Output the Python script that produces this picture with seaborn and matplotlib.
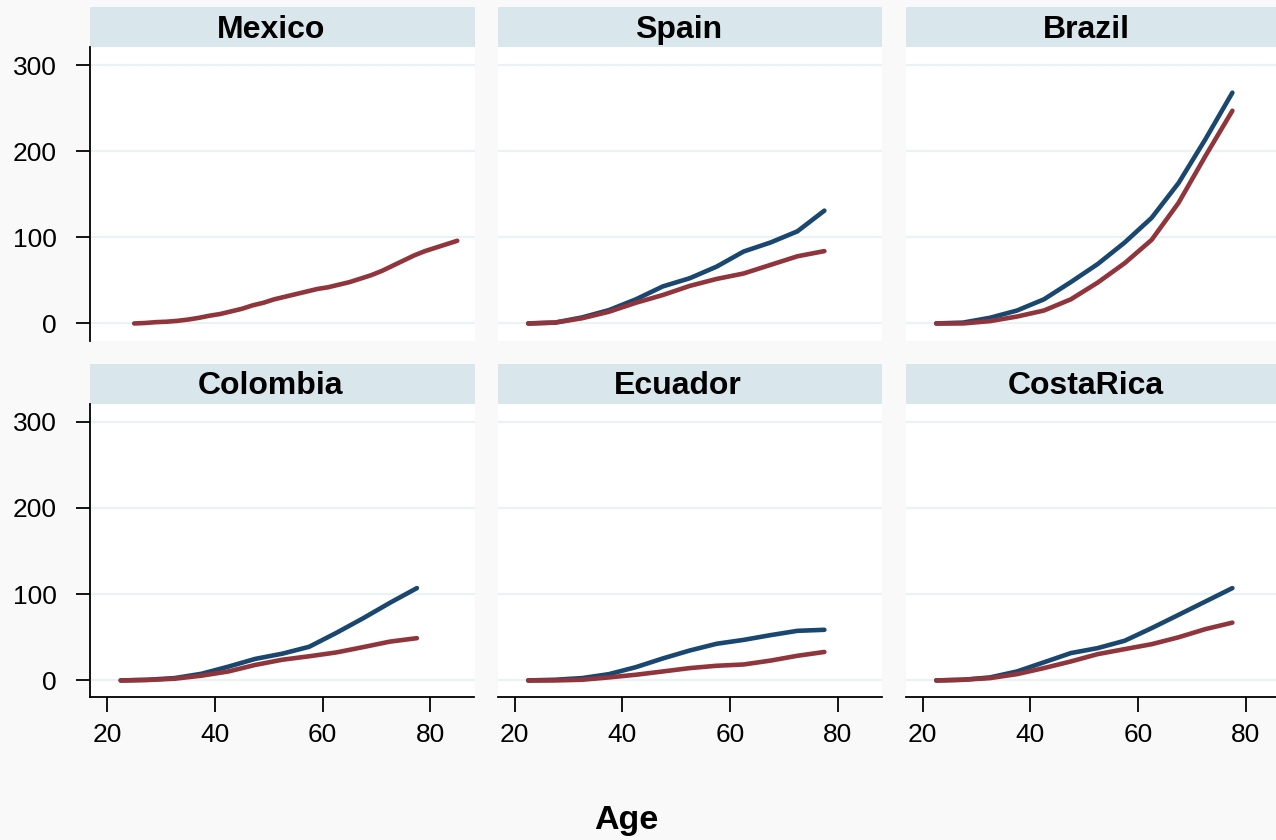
import matplotlib.pyplot as plt
from matplotlib.patches import Rectangle
import seaborn as sns
import pandas as pd
import numpy as np

sns.set_style("white")
plt.rcParams['font.family'] = ['Liberation Sans', 'DejaVu Sans']
plt.rcParams['figure.dpi'] = 100
plt.rcParams['text.color'] = 'black'

# ---- data ----
countries = ["Mexico", "Spain", "Brazil", "Colombia", "Ecuador", "CostaRica"]
ages = [22.5, 27.5, 32.5, 37.5, 42.5, 47.5, 52.5, 57.5, 62.5, 67.5, 72.5, 77.5]

# Mexico comes on a finer age grid and only one line is visible
mexico_ages = list(range(25, 86, 2))
mexico_vals = [0, 0.5, 1.5, 2, 3, 4.5, 6.5, 9, 11, 14, 17, 21, 24, 28, 31, 34,
               37, 40, 42, 45, 48, 52, 56, 61, 67, 73, 79, 84, 88, 92, 96]

spain_m = [0, 1, 7, 15.5, 28, 43, 52.5, 66, 83.5, 94, 107, 131]
spain_f = [0, 1, 6, 13.6, 24, 33, 43.6, 51.7, 58, 68, 78, 84]
brazil_m = [0, 1, 6.6, 15, 28, 48, 69, 94, 122.6, 163, 214, 268]
brazil_f = [0, 0, 2.7, 8, 15, 28, 47.5, 70, 97, 140, 194.5, 247]
colombia_m = [0, 0.8, 2.7, 7.7, 16, 25, 31, 39, 55, 72, 90, 107]
colombia_f = [0, 0.5, 2, 5.5, 10.4, 18, 24, 28, 32.4, 38.6, 45, 49]
ecuador_m = [0, 0.8, 2.7, 7.3, 15.4, 25.5, 34.7, 42.5, 47, 52.5, 57.5, 58.7]
ecuador_f = [0, 0, 0.8, 3.5, 6.6, 10.4, 14.3, 17, 18.5, 23, 28.6, 33]
costarica_m = [0, 0.8, 3.5, 10.4, 21, 31.7, 37.5, 46, 60.6, 76, 91.5, 107]
costarica_f = [0, 0.8, 2.7, 7.3, 14.3, 22, 30.5, 36.3, 42, 50, 59.5, 67]

series = {
    "Spain": (spain_m, spain_f),
    "Brazil": (brazil_m, brazil_f),
    "Colombia": (colombia_m, colombia_f),
    "Ecuador": (ecuador_m, ecuador_f),
    "CostaRica": (costarica_m, costarica_f),
}

rows = [("Mexico", a, "Female", v) for a, v in zip(mexico_ages, mexico_vals)]
for c, (m, f) in series.items():
    rows += [(c, a, "Male", v) for a, v in zip(ages, m)]
    rows += [(c, a, "Female", v) for a, v in zip(ages, f)]
df = pd.DataFrame(rows, columns=["country", "age", "sex", "value"])

palette = {"Male": "#1a476f", "Female": "#90353b"}
bg = "#f9f9f9"
strip_col = "#d9e6eb"
grid_col = "#eaf2f3"

W, H = 1276, 840
fig = plt.figure(figsize=(W / 100, H / 100), facecolor=bg)

col_left = [90, 497.5, 905.5]
col_w = 384.5
row_bottom = [340.5, 697]
row_h = 293.5
strip_h = 40

for i, c in enumerate(countries):
    r, k = divmod(i, 3)
    ax = fig.add_axes([col_left[k] / W, 1 - row_bottom[r] / H, col_w / W, row_h / H])
    ax.set_facecolor("white")

    sub = df[df["country"] == c]
    sns.lineplot(data=sub, x="age", y="value", hue="sex", hue_order=["Male", "Female"],
                 palette=palette, lw=3.3, legend=False, ax=ax)

    ax.set_xlim(16.8, 88.2)
    ax.set_ylim(-19.8 if r == 0 else -19.2, 321)
    ax.set_xticks([20, 40, 60, 80])
    ax.set_yticks([0, 100, 200, 300])
    ax.set_xlabel("")
    ax.set_ylabel("")
    ax.set_axisbelow(True)
    ax.yaxis.grid(True, color=grid_col, lw=1.6)
    ax.xaxis.grid(False)

    for s in ax.spines.values():
        s.set_visible(False)
    if k == 0:
        ax.spines["left"].set_visible(True)
        ax.spines["left"].set_color("black")
        ax.spines["left"].set_linewidth(1.3)
    if r == 1:
        ax.spines["bottom"].set_visible(True)
        ax.spines["bottom"].set_color("black")
        ax.spines["bottom"].set_linewidth(1.3)

    ax.tick_params(axis="y", left=(k == 0), labelleft=(k == 0), length=10, width=1.3,
                   pad=14, labelsize=19, colors="black", direction="out")
    ax.tick_params(axis="x", bottom=(r == 1), labelbottom=(r == 1), length=11, width=1.3,
                   pad=8, labelsize=19, colors="black", direction="out")

    # strip header
    ax.add_patch(Rectangle((0, 1), 1, strip_h / row_h, transform=ax.transAxes,
                           facecolor=strip_col, edgecolor="none", clip_on=False))
    ax.text(0.5 - 11.5 / col_w, 1 + (strip_h / 2 - 3) / row_h, c, transform=ax.transAxes,
            ha="center", va="center", fontsize=23, fontweight="bold", color="black")

fig.text(626 / W, 1 - 820 / H, "Age", ha="center", va="center",
         fontsize=24.5, fontweight="bold", color="black")

fig.savefig("out.png", dpi=100, facecolor=bg)
